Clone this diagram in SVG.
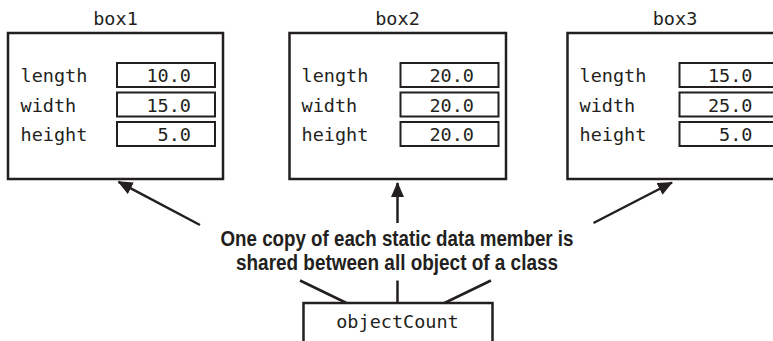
<svg xmlns="http://www.w3.org/2000/svg" width="773" height="341" viewBox="0 0 773 341">
  <style>
    .outer { fill: #ffffff; stroke: #231f20; stroke-width: 2.5; }
    .val { fill: #ffffff; stroke: #231f20; stroke-width: 2; }
    .mono { font-family: "DejaVu Sans Mono", "Liberation Mono", monospace; font-size: 18.5px; fill: #231f20; }
    .title { text-anchor: middle; }
    .num { text-anchor: end; }
    .note { font-family: "Liberation Sans Narrow", "Liberation Sans", Arial, sans-serif; font-weight: bold; font-size: 22px; fill: #231f20; text-anchor: middle; }
    .conn { stroke: #231f20; stroke-width: 2.5; fill: none; }
  </style>
  <defs>
    <marker id="ah" markerUnits="userSpaceOnUse" markerWidth="16" markerHeight="14" refX="14" refY="6.5" orient="auto">
      <path d="M0,0 L15,6.5 L0,13 Z" fill="#231f20"/>
    </marker>
  </defs>
  <rect width="773" height="341" fill="#ffffff"/>

  <g id="box1">
    <text class="mono title" x="115.5" y="25">box1</text>
    <rect class="outer" x="8" y="33" width="215" height="146"/>
    <text class="mono" x="20.5" y="82">length</text>
    <text class="mono" x="20.5" y="111.5">width</text>
    <text class="mono" x="20.5" y="141">height</text>
    <rect class="val" x="117" y="63" width="98" height="24"/>
    <rect class="val" x="117" y="92.5" width="98" height="24"/>
    <rect class="val" x="117" y="122" width="98" height="24"/>
    <text class="mono num" x="191" y="82">10.0</text>
    <text class="mono num" x="191" y="111.5">15.0</text>
    <text class="mono num" x="191" y="141">5.0</text>
  </g>

  <g id="box2">
    <text class="mono title" x="397.5" y="25">box2</text>
    <rect class="outer" x="289.5" y="33" width="216.5" height="146"/>
    <text class="mono" x="301.5" y="82">length</text>
    <text class="mono" x="301.5" y="111.5">width</text>
    <text class="mono" x="301.5" y="141">height</text>
    <rect class="val" x="400.5" y="63" width="98" height="24"/>
    <rect class="val" x="400.5" y="92.5" width="98" height="24"/>
    <rect class="val" x="400.5" y="122" width="98" height="24"/>
    <text class="mono num" x="474" y="82">20.0</text>
    <text class="mono num" x="474" y="111.5">20.0</text>
    <text class="mono num" x="474" y="141">20.0</text>
  </g>

  <g id="box3">
    <text class="mono title" x="675" y="25">box3</text>
    <rect class="outer" x="567.5" y="33" width="215" height="146"/>
    <text class="mono" x="579.5" y="82">length</text>
    <text class="mono" x="579.5" y="111.5">width</text>
    <text class="mono" x="579.5" y="141">height</text>
    <rect class="val" x="679.5" y="63" width="98" height="24"/>
    <rect class="val" x="679.5" y="92.5" width="98" height="24"/>
    <rect class="val" x="679.5" y="122" width="98" height="24"/>
    <text class="mono num" x="752.5" y="82">15.0</text>
    <text class="mono num" x="752.5" y="111.5">25.0</text>
    <text class="mono num" x="752.5" y="141">5.0</text>
  </g>

  <g id="note">
    <text class="note" x="397" y="246" textLength="353" lengthAdjust="spacingAndGlyphs">One copy of each static data member is</text>
    <text class="note" x="397" y="270" textLength="322" lengthAdjust="spacingAndGlyphs">shared between all object of a class</text>
  </g>

  <g id="objectCount">
    <rect class="outer" x="303.5" y="303" width="189" height="45"/>
    <text class="mono title" x="397.5" y="328">objectCount</text>
  </g>

  <g id="connectors">
    <line class="conn" x1="200" y1="225" x2="118.5" y2="181.8" marker-end="url(#ah)"/>
    <line class="conn" x1="397.5" y1="223" x2="397.5" y2="183" marker-end="url(#ah)"/>
    <line class="conn" x1="593.5" y1="223" x2="672" y2="182.5" marker-end="url(#ah)"/>
    <line class="conn" x1="346.5" y1="303" x2="300" y2="280.5"/>
    <line class="conn" x1="397.5" y1="303" x2="397.5" y2="280.5"/>
    <line class="conn" x1="444.5" y1="303" x2="491" y2="280.5"/>
  </g>
</svg>
